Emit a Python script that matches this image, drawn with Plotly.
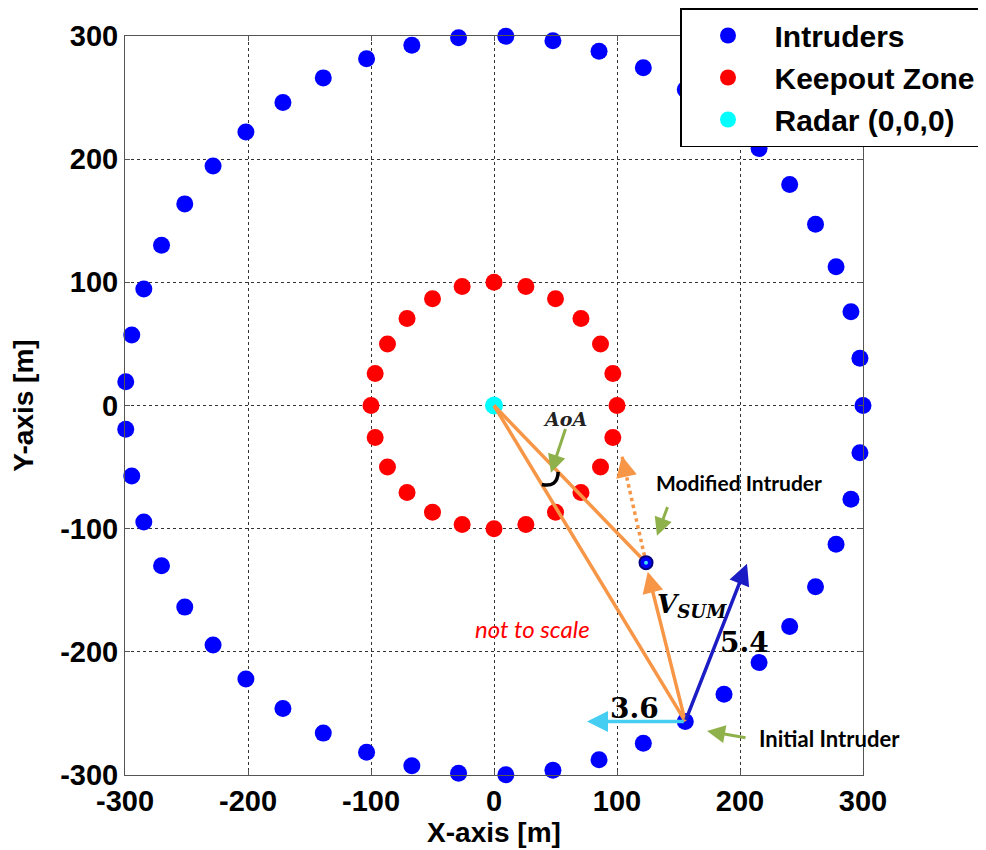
import numpy as np
import plotly.graph_objects as go

# ---- data ----
intruder_x = [300.0, 297.5, 290.2, 278.1, 261.4, 240.4, 215.5, 187.0, 155.5, 121.4, 85.4, 47.9, 9.6,
              -28.8, -66.8, -103.6, -138.8, -171.6, -201.7, -228.4, -251.4, -270.3, -284.7, -294.5, -299.4,
              -299.4, -294.5, -284.7, -270.3, -251.4, -228.4, -201.7, -171.6, -138.8, -103.6, -66.8, -28.8,
              9.6, 47.9, 85.4, 121.4, 155.5, 187.0, 215.5, 240.4, 261.4, 278.1, 290.2, 297.5]
intruder_y = [0.0, 38.4, 76.1, 112.6, 147.2, 179.4, 208.7, 234.5, 256.5, 274.3, 287.6, 296.2, 299.8,
              298.6, 292.5, 281.5, 266.0, 246.1, 222.1, 194.5, 163.7, 130.2, 94.5, 57.3, 19.2,
              -19.2, -57.3, -94.5, -130.2, -163.7, -194.5, -222.1, -246.1, -266.0, -281.5, -292.5, -298.6,
              -299.8, -296.2, -287.6, -274.3, -256.5, -234.5, -208.7, -179.4, -147.2, -112.6, -76.1, -38.4]

keepout_x = [100.0, 96.6, 86.6, 70.7, 50.0, 25.9, 0.0, -25.9, -50.0, -70.7, -86.6, -96.6,
             -100.0, -96.6, -86.6, -70.7, -50.0, -25.9, 0.0, 25.9, 50.0, 70.7, 86.6, 96.6]
keepout_y = [0.0, 25.9, 50.0, 70.7, 86.6, 96.6, 100.0, 96.6, 86.6, 70.7, 50.0, 25.9,
             0.0, -25.9, -50.0, -70.7, -86.6, -96.6, -100.0, -96.6, -86.6, -70.7, -50.0, -25.9]

radar = [0.0, 0.0]
initial_intruder = [155.5, -256.5]
modified_intruder = [123.6, -127.6]
vsum_tip = [125.0, -135.0]
dotted_tip = [104.0, -41.0]
blue_vec_tip = [205.7, -128.5]
cyan_vec_tip = [75.6, -256.5]

tick_vals = [-300, -200, -100, 0, 100, 200, 300]
tick_text = ["-300", "-200", "-100", "0", "100", "200", "300"]

# label positions
label_36 = [114.6, -246.3]
label_54 = [204.0, -192.7]
label_vsum = [161.0, -162.6]
label_aoa = [57.7, -10.6]
label_mod = [199.0, -62.6]
label_init = [273.0, -270.7]
label_scale = [31.7, -181.3]
green_aoa = [[58.5, -17.9], [46.3, -54.5]]
green_mod = [[141.5, -81.3], [132.5, -105.7]]
green_init = [[205.7, -270.0], [173.2, -264.2]]
aoa_arc_radius = 75.0

ORANGE = "#F79646"
GREEN = "#8FB14B"
NAVY = "#1C1CC4"
CYAN_ARROW = "#45CDF2"

fig = go.Figure()

fig.add_trace(go.Scatter(x=intruder_x, y=intruder_y, mode="markers", name="Intruders",
                         marker=dict(color="#0000FF", size=17), cliponaxis=False))
fig.add_trace(go.Scatter(x=keepout_x, y=keepout_y, mode="markers", name="Keepout Zone",
                         marker=dict(color="#FF0000", size=17), cliponaxis=False))
fig.add_trace(go.Scatter(x=[radar[0]], y=[radar[1]], mode="markers", name="Radar (0,0,0)",
                         marker=dict(color="#00FFFF", size=18), cliponaxis=False))

# orange lines from radar
fig.add_trace(go.Scatter(x=[radar[0], modified_intruder[0]], y=[radar[1], modified_intruder[1]],
                         mode="lines", line=dict(color=ORANGE, width=3.5), showlegend=False, hoverinfo="skip"))
fig.add_trace(go.Scatter(x=[radar[0], initial_intruder[0]], y=[radar[1], initial_intruder[1]],
                         mode="lines", line=dict(color=ORANGE, width=3.5), showlegend=False, hoverinfo="skip"))
# dotted orange line
fig.add_trace(go.Scatter(x=[modified_intruder[0], dotted_tip[0]], y=[modified_intruder[1], dotted_tip[1]],
                         mode="lines", line=dict(color=ORANGE, width=3.5, dash="dot"), showlegend=False, hoverinfo="skip"))

# modified intruder marker
fig.add_trace(go.Scatter(x=[modified_intruder[0]], y=[modified_intruder[1]], mode="markers",
                         marker=dict(color="#0000FF", size=13, line=dict(color="#000080", width=2)),
                         showlegend=False, hoverinfo="skip"))
fig.add_trace(go.Scatter(x=[modified_intruder[0]], y=[modified_intruder[1]], mode="markers",
                         marker=dict(color="#40E0F0", size=4), showlegend=False, hoverinfo="skip"))

# AoA bracket (curved) between the two orange lines
a1 = np.arctan2(initial_intruder[1], initial_intruder[0])
a2 = np.arctan2(modified_intruder[1], modified_intruder[0])
p1 = aoa_arc_radius * np.array([np.cos(a1), np.sin(a1)])
p2 = aoa_arc_radius * np.array([np.cos(a2), np.sin(a2)])
bis = (a1 + a2) / 2
ctrl = (p1 + p2) / 2 + 10 * np.array([np.cos(bis), np.sin(bis)])
shapes = [dict(type="path", xref="x", yref="y",
               path=f"M {p1[0]:.2f},{p1[1]:.2f} Q {ctrl[0]:.2f},{ctrl[1]:.2f} {p2[0]:.2f},{p2[1]:.2f}",
               line=dict(color="black", width=3.5))]

ann = []


def arrow(tail, tip, color, width=3, head=2, size=1.2, standoff=0):
    ann.append(dict(x=tip[0], y=tip[1], ax=tail[0], ay=tail[1], xref="x", yref="y",
                    axref="x", ayref="y", text="", showarrow=True, arrowhead=head,
                    arrowsize=size, arrowwidth=width, arrowcolor=color, standoff=standoff))


arrow(initial_intruder, vsum_tip, ORANGE, width=3.5)
# head of dotted arrow
d = np.array(dotted_tip) - np.array(modified_intruder)
d = d / np.linalg.norm(d)
arrow(list(np.array(dotted_tip) - 6 * d), dotted_tip, ORANGE, width=3.5)
arrow(initial_intruder, blue_vec_tip, NAVY, width=3.5)
arrow(initial_intruder, cyan_vec_tip, CYAN_ARROW, width=3.5)
arrow(green_aoa[0], green_aoa[1], GREEN)
arrow(green_mod[0], green_mod[1], GREEN)
arrow(green_init[0], green_init[1], GREEN)


def label(pos, text, size, family, color="black", weight="bold", style="normal"):
    ann.append(dict(x=pos[0], y=pos[1], xref="x", yref="y", text=text, showarrow=False,
                    font=dict(size=size, family=family, color=color, weight=weight, style=style)))


label(label_36, "3.6", 28, "DejaVu Serif")
label(label_54, "5.4", 28, "DejaVu Serif")
label(label_vsum, "<i>V<sub>SUM</sub></i>", 26, "DejaVu Serif")
label(label_aoa, "<i>AoA</i>", 19, "DejaVu Serif", color="#222222")
label(label_mod, "Modified Intruder", 21, "Lato")
label(label_init, "Initial Intruder", 22, "Lato")
label(label_scale, "not to scale", 24, "Lato", color="#FF0000", weight="normal", style="italic")

axis_common = dict(range=[-300, 300], tickvals=tick_vals, ticktext=tick_text, automargin=False,
                   showgrid=True, gridcolor="#333333", griddash="dot", gridwidth=1,
                   showline=True, linecolor="#555555", linewidth=1, mirror="ticks",
                   ticks="inside", ticklen=5, tickcolor="#555555", zeroline=False,
                   tickfont=dict(family="Liberation Sans", size=29, color="black", weight="bold"))

fig.update_layout(
    width=986, height=850,
    margin=dict(l=117, r=131, t=28, b=83, autoexpand=False),
    paper_bgcolor="white", plot_bgcolor="white",
    annotations=ann, shapes=shapes,
    xaxis=dict(**axis_common, title=dict(text="X-axis [m]", standoff=6,
               font=dict(family="Liberation Sans", size=28, color="black", weight="bold"))),
    yaxis=dict(**axis_common, title=dict(text="Y-axis [m]", standoff=18,
               font=dict(family="Liberation Sans", size=28, color="black", weight="bold"))),
    legend=dict(x=(680 - 125) / 738, y=(775 - 8) / 739,
                xanchor="left", yanchor="top", bgcolor="white",
                bordercolor="black", borderwidth=1.5, itemwidth=83,
                font=dict(family="Liberation Sans", size=30, color="black", weight="bold")),
)

fig.write_html("out.html")
